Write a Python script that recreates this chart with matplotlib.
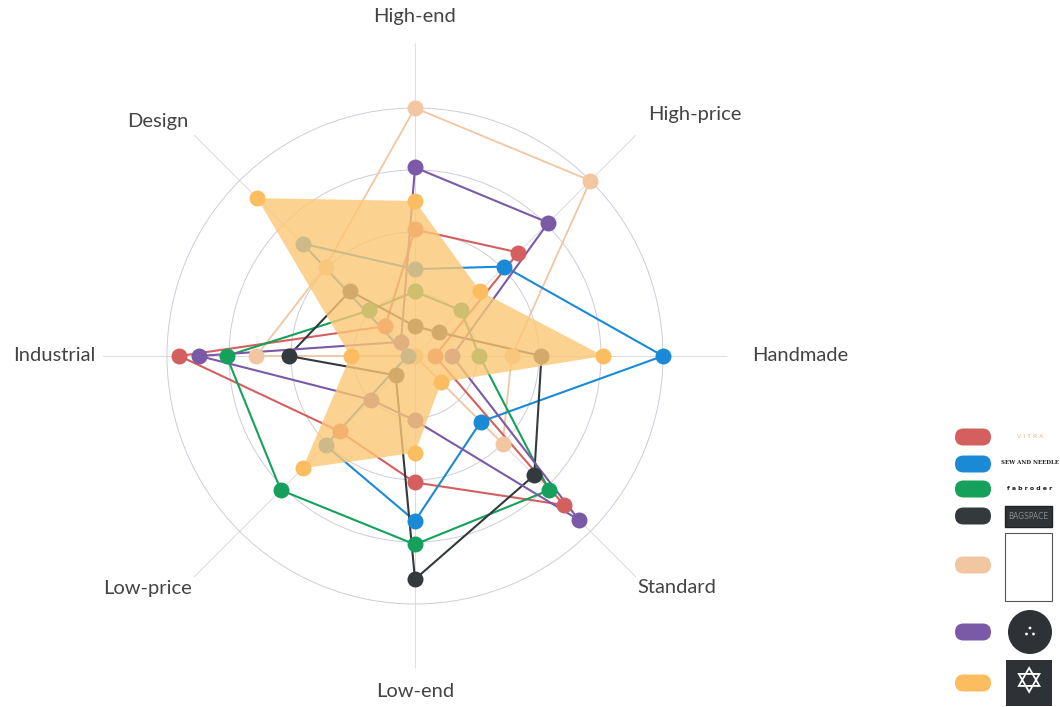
import numpy as np
import matplotlib
matplotlib.use("Agg")
import matplotlib.pyplot as plt
from matplotlib.patches import FancyBboxPatch, Rectangle, Circle

# axes, clockwise from the top
categories = ["High-end", "High-price", "Handmade", "Standard",
              "Low-end", "Low-price", "Industrial", "Design"]

vitra = [5.1, 5.9, 0.8, 8.5, 5.1, 4.3, 9.5, 1.7]
sew_and_needle = [3.5, 5.1, 10.0, 3.75, 6.65, 5.1, 0.3, 6.4]
fabroder = [2.6, 2.6, 2.6, 7.65, 7.6, 7.65, 7.6, 2.6]
bagspace = [1.2, 1.35, 5.1, 6.8, 9.0, 1.1, 5.1, 3.7]
paper_brand = [10.0, 10.0, 3.9, 5.0, 0.0, 0.0, 6.4, 5.1]
button_brand = [7.6, 7.6, 1.5, 9.35, 2.6, 2.5, 8.7, 0.8]
star_brand = [6.25, 3.7, 7.6, 1.5, 3.9, 6.4, 2.6, 9.0]

red = "#d3605f"
blue = "#1a8ad6"
green = "#15a05b"
dark = "#33393d"
peach = "#f2c6a0"
purple = "#7a59a6"
orange = "#fcbd60"

label_color = "#444444"
label_font = ["Lato", "DejaVu Sans"]

fig = plt.figure(figsize=(10.6, 7.07), dpi=100)
ax = fig.add_axes([0.0967, 0.0545, 0.5896, 0.884], projection="polar")

n = len(categories)
theta = np.linspace(0, 2 * np.pi, n, endpoint=False)
theta_c = np.concatenate([theta, theta[:1]])

ax.set_theta_offset(np.pi / 2)
ax.set_theta_direction(-1)
ax.set_ylim(0, 12.6)
ax.set_xticks(theta)
ax.set_xticklabels([])
ax.set_yticks([2.5, 5, 7.5, 10])
ax.set_yticklabels([])
ax.spines["polar"].set_visible(False)
ax.xaxis.grid(True, color="#dcdce0", linewidth=0.7)
ax.yaxis.grid(True, color="#cdcddb", linewidth=0.7)
ax.set_facecolor("none")

def closed(vals):
    return np.concatenate([vals, vals[:1]])

series = [
    (paper_brand, peach, 1.3),
    (vitra, red, 1.5),
    (sew_and_needle, blue, 1.5),
    (fabroder, green, 1.5),
    (bagspace, dark, 1.5),
    (button_brand, purple, 1.5),
]
for vals, col, lw in series:
    ax.plot(theta_c, closed(vals), color=col, linewidth=lw, zorder=3)
    ax.plot(theta, vals, "o", color=col, markersize=11.5, zorder=4,
            markeredgewidth=0)

# filled series sits over the others
ax.fill(theta_c, closed(star_brand), color="#fcc775", alpha=0.8,
        linewidth=0, zorder=5)
ax.plot(theta, star_brand, "o", color=orange, markersize=11.5, zorder=6,
        markeredgewidth=0)

# category labels
label_pos = {
    "High-end": (13.7, "center", "center"),
    "High-price": (13.3, "left", "bottom"),
    "Handmade": (13.6, "left", "center"),
    "Standard": (12.7, "left", "top"),
    "Low-end": (13.2, "center", "top"),
    "Low-price": (12.75, "right", "top"),
    "Industrial": (12.9, "right", "center"),
    "Design": (12.9, "right", "bottom"),
}
for t, name in zip(theta, categories):
    r, ha, va = label_pos[name]
    ax.text(t, r, name, ha=ha, va=va, fontsize=14.5, color=label_color,
            family=label_font, clip_on=False)

# legend with brand marks on the right
lg = fig.add_axes([0, 0, 1, 1], zorder=10)
lg.set_xlim(0, 1060)
lg.set_ylim(707, 0)
lg.axis("off")

legend_colors = [red, blue, green, dark, peach, purple, orange]
legend_y = [437, 464, 489, 516, 565, 632, 683]
for col, y in zip(legend_colors, legend_y):
    lg.add_patch(FancyBboxPatch((955, y - 8.5), 36, 17,
                                boxstyle="round,pad=0,rounding_size=8.5",
                                facecolor=col, edgecolor="none"))

lg.text(1030, 437, "V I T R A", ha="center", va="center", fontsize=4.5,
        color="#e3b486", family="DejaVu Sans")
lg.text(1030, 462, "SEW AND NEEDLE", ha="center", va="center", fontsize=4,
        color="#222222", family="DejaVu Serif", fontweight="bold")
lg.text(1030, 489, "f a b r o d e r", ha="center", va="center", fontsize=4.5,
        color="#222222", fontweight="bold")
lg.add_patch(Rectangle((1005, 506), 47, 21, facecolor="#2f3336",
                       edgecolor="#222222"))
lg.text(1028, 516.5, "BAGSPACE", ha="center", va="center", fontsize=5.5,
        color="#8a8d90", family="DejaVu Sans")
lg.add_patch(Rectangle((1005, 533), 47, 68, facecolor="white",
                       edgecolor="#555555", linewidth=0.8))
lg.add_patch(Circle((1030, 632), 22, facecolor="#2e3236", edgecolor="none"))
for dx, dy in [(0, -4), (-3.5, 2), (3.5, 2)]:
    lg.add_patch(Circle((1030 + dx, 632 + dy), 1.4, facecolor="white",
                        edgecolor="none"))
lg.add_patch(Rectangle((1006, 660), 46, 46, facecolor="#2e3236",
                       edgecolor="none"))
lg.text(1029, 683, "\u2721", ha="center", va="center", fontsize=26,
        color="white", family="DejaVu Sans")

fig.savefig("out.png", dpi=100, facecolor="white")
